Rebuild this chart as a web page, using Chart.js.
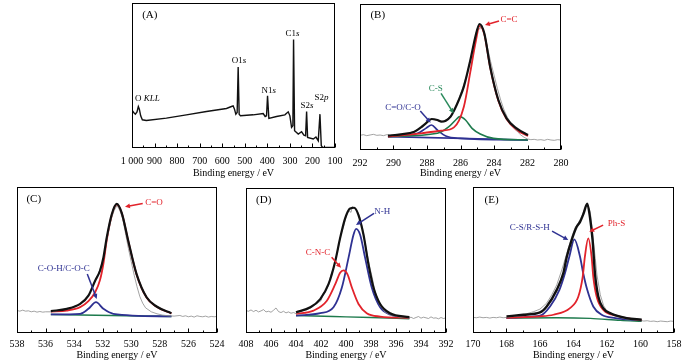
<!DOCTYPE html>
<html lang="en">
<head>
<meta charset="UTF-8" />
<title>XPS spectra</title>
<script src="https://cdn.jsdelivr.net/npm/chart.js@4.4.0/dist/chart.umd.min.js"></script>
<style>
  body { margin: 0; background: #fff; width: 691px; height: 362px; position: relative; overflow: hidden; }
  canvas { position: absolute; }
</style>
</head>
<body>
<canvas id="panelA"></canvas>
<canvas id="panelB"></canvas>
<canvas id="panelC"></canvas>
<canvas id="panelD"></canvas>
<canvas id="panelE"></canvas>
<script>
// (A) survey spectrum
const aEnergy = [1000, 992.6, 985.2, 977.8, 971.9, 967.4, 961.5, 954.1, 936.4, 847.6, 758.8, 670, 581.2, 559, 551.6, 545.6, 539.7, 533.8, 529.3, 524.9, 519, 462.8, 418.4, 409.5, 403.6, 399.1, 393.2, 359.2, 322.2, 307.4, 300, 292.6, 286.7, 283.7, 279.2, 262.9, 248.1, 237.8, 230.4, 225.9, 221.5, 196.4, 184.5, 174.2, 166.7, 160.8, 154.9, 100];
const aCounts = [114, 107, 102, 109, 125, 117, 97, 85, 83, 90, 100, 110, 119, 125, 127, 117, 102, 107, 244, 102, 97, 100, 104, 95, 97, 157, 89, 95, 100, 109, 97, 62, 67, 327, 52, 42, 49, 39, 37, 110, 32, 27, 33, 22, 102, 7, 2, 2];

// (B) C1s
const bRawE = [292.0, 291.8, 291.6, 291.4, 291.2, 291.0, 290.8, 290.6, 290.4, 290.2, 290.0, 289.6, 289.2, 288.8, 288.4, 288.0, 287.7, 287.4, 287.1, 286.8, 286.5, 286.2, 285.9, 285.6, 285.3, 285.1, 284.95, 284.85, 284.75, 284.6, 284.4, 284.2, 284.0, 283.8, 283.6, 283.4, 283.2, 283.0, 282.8, 282.6, 282.4, 282.2, 282.0, 281.8, 281.6, 281.4, 281.2, 281.0, 280.8, 280.6, 280.4, 280.2, 280.0];
const bRawI = [44, 46, 43, 45, 47, 44, 45, 43, 46, 44, 46, 48, 50, 55, 66, 82, 92, 88, 86, 92, 108, 140, 182, 230, 295, 345, 370, 362, 375, 355, 310, 265, 225, 185, 150, 120, 98, 82, 68, 55, 45, 38, 33, 31, 32, 30, 31, 29, 32, 30, 29, 31, 30];
const bEnvE = [290.33, 289.54, 288.75, 288.36, 288.07, 287.73, 287.38, 287.14, 286.88, 286.59, 286.39, 286.10, 285.80, 285.41, 285.11, 284.86, 284.58, 284.23, 283.74, 283.25, 282.65, 281.97];
const bEnvI = [43, 47, 55, 68, 80, 93, 90, 85, 88, 100, 118, 150, 190, 270, 340, 378, 350, 250, 150, 95, 65, 45];
const bCCE = [290.33, 288.36, 287.14, 286.39, 285.80, 285.41, 285.11, 284.86, 284.58, 284.23, 283.74, 283.25, 282.65, 281.97];
const bCCI = [40, 50, 58, 68, 130, 235, 320, 372, 348, 248, 148, 93, 60, 42];
const bCSE = [290.33, 287.38, 286.69, 286.29, 286.04, 285.70, 285.31, 284.82, 284.03, 281.97];
const bCSI = [40, 50, 70, 90, 100, 90, 65, 48, 35, 30];
const bCOE = [290.33, 288.56, 288.07, 287.73, 287.38, 286.88, 286.00, 281.97];
const bCOI = [40, 50, 65, 75, 60, 42, 35, 30];
const bBaseE = [290.33, 281.97];
const bBaseI = [40, 30];

// (C) O1s
const cRawE = [538.0, 537.8, 537.6, 537.4, 537.2, 537.0, 536.8, 536.6, 536.4, 536.2, 536.0, 535.6, 535.2, 534.8, 534.4, 534.0, 533.6, 533.2, 532.9, 532.6, 532.3, 532.0, 531.7, 531.4, 531.2, 531.0, 530.9, 530.8, 530.6, 530.4, 530.2, 530.0, 529.8, 529.6, 529.4, 529.2, 529.0, 528.6, 528.2, 527.8, 527.4, 527.0, 526.6, 526.4, 526.2, 526.0, 525.8, 525.6, 525.4, 525.2, 525.0, 524.8, 524.6, 524.4, 524.2, 524.0];
const cRawI = [68, 66, 69, 66, 67, 64, 66, 63, 65, 63, 64, 64, 67, 70, 74, 80, 87, 100, 120, 150, 180, 215, 285, 345, 370, 385, 378, 370, 345, 300, 255, 215, 175, 140, 110, 90, 76, 64, 58, 54, 52, 51, 53, 50, 52, 49, 51, 48, 52, 50, 49, 51, 48, 50, 49, 50];
const cEnvE = [535.63, 534.51, 533.58, 533.0, 532.53, 532.19, 531.95, 531.72, 531.37, 531.02, 530.67, 530.21, 529.63, 528.93, 528.23, 527.19];
const cEnvI = [66, 73, 88, 113, 158, 188, 228, 288, 358, 390, 363, 278, 178, 108, 80, 60];
const cCOE = [535.63, 534.51, 533.58, 533.0, 532.53, 532.19, 531.95, 531.72, 531.37, 531.02, 530.67, 530.21, 529.63, 528.93, 528.23, 527.19];
const cCOI = [65, 68, 78, 96, 123, 160, 210, 280, 355, 388, 362, 277, 177, 107, 79, 59];
const cCOHE = [535.63, 533.58, 533.0, 532.47, 531.95, 531.26, 527.19];
const cCOHI = [56, 58, 73, 93, 73, 58, 50];
const cBaseE = [535.63, 527.19];
const cBaseI = [56, 50];

// (D) N1s
const dRawE = [408.0, 407.8, 407.6, 407.4, 407.2, 407.0, 406.8, 406.6, 406.4, 406.2, 406.0, 405.8, 405.6, 405.4, 405.2, 405.0, 404.8, 404.6, 404.4, 404.2, 404.0, 403.6, 403.2, 402.8, 402.4, 402.0, 401.8, 401.6, 401.4, 401.2, 401.0, 400.8, 400.6, 400.4, 400.2, 400.0, 399.8, 399.6, 399.5, 399.3, 399.1, 398.9, 398.7, 398.5, 398.3, 398.1, 397.9, 397.7, 397.5, 397.3, 397.1, 396.9, 396.7, 396.5, 396.2, 395.9, 395.6, 395.3, 395.0, 394.8, 394.6, 394.4, 394.2, 394.0, 393.8, 393.6, 393.4, 393.2, 393.0, 392.8, 392.6, 392.4, 392.2, 392.0];
const dRawI = [68, 66, 70, 65, 69, 64, 67, 71, 64, 66, 63, 69, 76, 65, 62, 66, 61, 64, 60, 62, 59, 66, 70, 76, 88, 98, 122, 128, 145, 178, 196, 228, 262, 300, 322, 352, 372, 366, 384, 378, 370, 352, 320, 280, 238, 200, 168, 128, 108, 84, 76, 64, 60, 55, 52, 50, 47, 49, 45, 48, 44, 47, 50, 45, 48, 46, 44, 49, 45, 46, 43, 47, 44, 46];
const dEnvE = [404.0, 402.86, 402.06, 401.40, 400.86, 400.47, 400.07, 399.67, 399.35, 399.0, 398.60, 398.20, 397.80, 397.27, 396.47, 394.93];
const dEnvI = [63, 78, 103, 148, 218, 288, 348, 378, 380, 358, 298, 208, 138, 88, 60, 48];
const dCNCE = [404.0, 402.6, 401.53, 400.86, 400.47, 400.2, 399.88, 399.53, 399.0, 398.34, 397.27, 394.93];
const dCNCI = [58, 68, 98, 148, 183, 190, 178, 138, 88, 60, 50, 46];
const dNHE = [404.0, 402.06, 401.0, 400.33, 399.8, 399.40, 399.19, 398.87, 398.47, 397.94, 397.27, 396.47, 394.93];
const dNHI = [53, 60, 78, 138, 228, 298, 316, 298, 228, 138, 78, 56, 46];
const dBaseE = [404.0, 401.0, 398.0, 394.93];
const dBaseI = [53, 50, 47, 43];

// (E) S2p
const eRawE = [170.0, 169.8, 169.6, 169.4, 169.2, 169.0, 168.8, 168.6, 168.4, 168.2, 168.0, 167.6, 167.2, 166.8, 166.4, 166.0, 165.6, 165.3, 165.0, 164.7, 164.4, 164.1, 163.9, 163.7, 163.5, 163.3, 163.15, 163.0, 162.9, 162.8, 162.7, 162.6, 162.4, 162.2, 162.0, 161.6, 161.2, 160.8, 160.4, 160.0, 159.8, 159.6, 159.4, 159.2, 159.0, 158.8, 158.6, 158.4, 158.2, 158.0];
const eRawI = [47, 46, 48, 46, 47, 45, 47, 46, 48, 46, 47, 50, 54, 58, 64, 72, 90, 115, 145, 190, 240, 290, 318, 333, 352, 378, 386, 365, 320, 272, 225, 175, 115, 82, 66, 54, 47, 42, 40, 38, 36, 37, 35, 36, 34, 36, 35, 34, 36, 35];
const eEnvE = [168.0, 167.0, 166.0, 165.6, 165.0, 164.61, 164.40, 164.11, 163.81, 163.61, 163.40, 163.18, 163.02, 162.86, 162.72, 162.52, 162.23, 161.73, 160.83, 159.93];
const eEnvI = [50, 55, 62, 80, 130, 180, 230, 280, 320, 335, 360, 390, 350, 280, 180, 110, 75, 58, 45, 40];
const eCSE = [168.0, 167.0, 166.0, 165.40, 164.84, 164.51, 164.25, 163.95, 163.61, 163.42, 163.18, 162.82, 162.32, 161.5, 159.93];
const eCSI = [45, 48, 52, 80, 130, 180, 230, 282, 230, 180, 130, 80, 55, 45, 38];
const ePhE = [168.0, 166.0, 165.2, 164.21, 163.71, 163.45, 163.32, 163.12, 162.92, 162.82, 162.62, 162.23, 161.43, 159.93];
const ePhI = [46, 50, 55, 75, 110, 170, 230, 285, 230, 170, 110, 70, 52, 38];
const eBaseE = [168.0, 165.0, 163.0, 161.2, 159.93];
const eBaseI = [45, 46, 44, 38, 35];

const FONT = "'Liberation Serif', 'Times New Roman', serif";
const RED = '#e2232b';
const BLUE = '#2e3192';
const GREEN = '#1d7a4c';
const GRAY = '#8c8c8c';
const BLACK = '#111111';

function curve(xs, ys, color, width, order, smooth) {
  return {
    data: xs.map((x, i) => ({ x: x, y: ys[i] })),
    borderColor: color,
    borderWidth: width,
    pointRadius: 0,
    fill: false,
    order: order,
    cubicInterpolationMode: smooth ? 'monotone' : 'default',
    tension: smooth ? 0.4 : 0
  };
}

const noteSets = {
  panelA: [
    { parts: [['(A)', false]], at: [921, 402], size: 11 },
    { parts: [['O ', false], ['KLL', true]], at: [932, 149] },
    { parts: [['O1', false], ['s', true]], at: [526, 262] },
    { parts: [['N1', false], ['s', true]], at: [394, 172] },
    { parts: [['C1', false], ['s', true]], at: [288, 344] },
    { parts: [['S2', false], ['s', true]], at: [224, 127] },
    { parts: [['S2', false], ['p', true]], at: [160, 151] }
  ],
  panelB: [
    { parts: [['(B)', false]], at: [290.94, 405], size: 11 },
    { parts: [['C=C', false]], at: [283.1, 390], color: RED, arrow: [283.7, 387, 284.54, 375] },
    { parts: [['C-S', false]], at: [287.48, 183], color: '#2a8a5c', arrow: [287.16, 170, 286.41, 110] },
    { parts: [['C=O/C-O', false]], at: [289.43, 127], color: BLUE, arrow: [288.4, 117, 287.78, 82] }
  ],
  panelC: [
    { parts: [['(C)', false]], at: [536.83, 403], size: 11 },
    { parts: [['C=O', false]], at: [528.41, 393], color: RED, arrow: [529.2, 391, 530.44, 381] },
    { parts: [['C-O-H/C-O-C', false]], at: [534.73, 193], color: BLUE, arrow: [533.08, 178, 532.42, 103] }
  ],
  panelD: [
    { parts: [['(D)', false]], at: [406.58, 403], size: 11 },
    { parts: [['N-H', false]], at: [397.1, 368], color: BLUE, arrow: [397.76, 363, 399.2, 328] },
    { parts: [['C-N-C', false]], at: [402.24, 243], color: RED, arrow: [401.15, 230, 400.4, 198] }
  ],
  panelE: [
    { parts: [['(E)', false]], at: [168.89, 400], size: 11 },
    { parts: [['C-S/R-S-H', false]], at: [166.61, 318], color: BLUE, arrow: [165.28, 307, 164.31, 280] },
    { parts: [['Ph-S', false]], at: [161.43, 330], color: RED, arrow: [162.23, 325, 163.06, 305] }
  ]
};

// box around the plot and inward ticks on the bottom axis
const framePlugin = {
  id: 'frame',
  afterDraw(chart) {
    const ctx = chart.ctx, a = chart.chartArea, sx = chart.scales.x;
    const l = Math.round(a.left) + 0.5, r = Math.round(a.right) - 0.5;
    const t = Math.round(a.top) + 0.5, b = Math.round(a.bottom) - 0.5;
    ctx.save();
    ctx.strokeStyle = '#000';
    ctx.lineWidth = 1;
    ctx.strokeRect(l, t, r - l, b - t);
    const half = sx.options.ticks.stepSize / 2;
    const n = Math.round((sx.max - sx.min) / half);
    ctx.beginPath();
    for (let k = 0; k <= n; k++) {
      const px = Math.round(sx.getPixelForValue(sx.min + k * half)) + 0.5;
      ctx.moveTo(px, b);
      ctx.lineTo(px, b - (k % 2 === 0 ? 4 : 2));
    }
    ctx.stroke();
    ctx.restore();
  }
};

const notesPlugin = {
  id: 'notes',
  afterDatasetsDraw(chart) {
    const ctx = chart.ctx, sx = chart.scales.x, sy = chart.scales.y;
    (noteSets[chart.canvas.id] || []).forEach(n => {
      ctx.save();
      ctx.fillStyle = n.color || '#000';
      ctx.strokeStyle = n.color || '#000';
      if (n.arrow) {
        const x1 = sx.getPixelForValue(n.arrow[0]), y1 = sy.getPixelForValue(n.arrow[1]);
        const x2 = sx.getPixelForValue(n.arrow[2]), y2 = sy.getPixelForValue(n.arrow[3]);
        const ang = Math.atan2(y2 - y1, x2 - x1), h = 5.5;
        ctx.lineWidth = 1.5;
        ctx.beginPath();
        ctx.moveTo(x1, y1);
        ctx.lineTo(x2 - 3 * Math.cos(ang), y2 - 3 * Math.sin(ang));
        ctx.stroke();
        ctx.beginPath();
        ctx.moveTo(x2, y2);
        ctx.lineTo(x2 - h * Math.cos(ang - 0.45), y2 - h * Math.sin(ang - 0.45));
        ctx.lineTo(x2 - h * Math.cos(ang + 0.45), y2 - h * Math.sin(ang + 0.45));
        ctx.closePath();
        ctx.fill();
      }
      const size = n.size || 9;
      let w = 0;
      n.parts.forEach(p => {
        ctx.font = (p[1] ? 'italic ' : '') + size + 'px ' + FONT;
        w += ctx.measureText(p[0]).width;
      });
      let x = sx.getPixelForValue(n.at[0]) - w / 2;
      const y = sy.getPixelForValue(n.at[1]);
      ctx.textBaseline = 'middle';
      n.parts.forEach(p => {
        ctx.font = (p[1] ? 'italic ' : '') + size + 'px ' + FONT;
        ctx.fillText(p[0], x, y);
        x += ctx.measureText(p[0]).width;
      });
      ctx.restore();
    });
  }
};

function panel(id, frame, xMin, xMax, step, yMax, datasets) {
  const cv = document.getElementById(id);
  const top = frame.top < 100 ? 0 : 178;
  const bottom = frame.top < 100 ? 179 : 361;
  cv.style.left = (frame.left - 24) + 'px';
  cv.style.top = top + 'px';
  cv.width = frame.right - frame.left + 48;
  cv.height = bottom - top;
  cv.style.width = cv.width + 'px';
  cv.style.height = cv.height + 'px';
  return new Chart(cv, {
    type: 'line',
    data: { datasets: datasets },
    options: {
      responsive: false,
      animation: false,
      events: [],
      layout: { padding: { left: 24, right: 24, top: frame.top - top, bottom: 0 } },
      plugins: { legend: { display: false }, tooltip: { enabled: false } },
      scales: {
        x: {
          type: 'linear',
          min: xMin,
          max: xMax,
          reverse: true,
          afterFit: s => { s.height = bottom - frame.bottom; },
          grid: { display: false, drawTicks: false },
          border: { display: false },
          ticks: {
            stepSize: step,
            autoSkip: false,
            maxRotation: 0,
            padding: top === 0 ? 7 : 5,
            color: '#000',
            font: { family: FONT, size: 10 },
            callback: v => (v === 1000 ? '1 000' : String(v))
          },
          title: {
            display: true,
            text: 'Binding energy / eV',
            color: '#000',
            font: { family: FONT, size: 10 },
            padding: { top: 0, bottom: 0 }
          }
        },
        y: { display: false, min: 0, max: yMax }
      }
    },
    plugins: [framePlugin, notesPlugin]
  });
}

panel('panelA', { left: 132, right: 335, top: 3, bottom: 148 }, 100, 1000, 100, 437, [
  curve(aEnergy, aCounts, BLACK, 1.4, 0, false)
]);

panel('panelB', { left: 360, right: 561, top: 4, bottom: 150 }, 280, 292, 2, 438, [
  curve(bEnvE, bEnvI, BLACK, 2.2, 0, true),
  curve(bRawE, bRawI, GRAY, 0.8, 1, false),
  curve(bCCE, bCCI, RED, 1.8, 2, true),
  curve(bCSE, bCSI, GREEN, 1.6, 3, true),
  curve(bCOE, bCOI, BLUE, 1.6, 4, true),
  curve(bBaseE, bBaseI, BLUE, 1.6, 5, false)
]);

panel('panelC', { left: 17, right: 217, top: 187, bottom: 333 }, 524, 538, 2, 441, [
  curve(cEnvE, cEnvI, BLACK, 2.2, 0, true),
  curve(cRawE, cRawI, GRAY, 0.8, 1, false),
  curve(cCOE, cCOI, RED, 1.8, 2, true),
  curve(cCOHE, cCOHI, BLUE, 1.8, 3, true),
  curve(cBaseE, cBaseI, GREEN, 1.4, 4, false)
]);

panel('panelD', { left: 246, right: 446, top: 188, bottom: 333 }, 392, 408, 2, 440, [
  curve(dEnvE, dEnvI, BLACK, 2.2, 0, true),
  curve(dRawE, dRawI, GRAY, 0.8, 1, false),
  curve(dCNCE, dCNCI, RED, 1.8, 2, true),
  curve(dNHE, dNHI, BLUE, 1.8, 3, true),
  curve(dBaseE, dBaseI, GREEN, 1.4, 4, true)
]);

panel('panelE', { left: 473, right: 674, top: 187, bottom: 333 }, 158, 170, 2, 440, [
  curve(eEnvE, eEnvI, BLACK, 2.4, 0, true),
  curve(eRawE, eRawI, GRAY, 0.8, 1, false),
  curve(ePhE, ePhI, RED, 1.8, 2, true),
  curve(eCSE, eCSI, BLUE, 1.8, 3, true),
  curve(eBaseE, eBaseI, GREEN, 1.4, 4, true)
]);
</script>
</body>
</html>
